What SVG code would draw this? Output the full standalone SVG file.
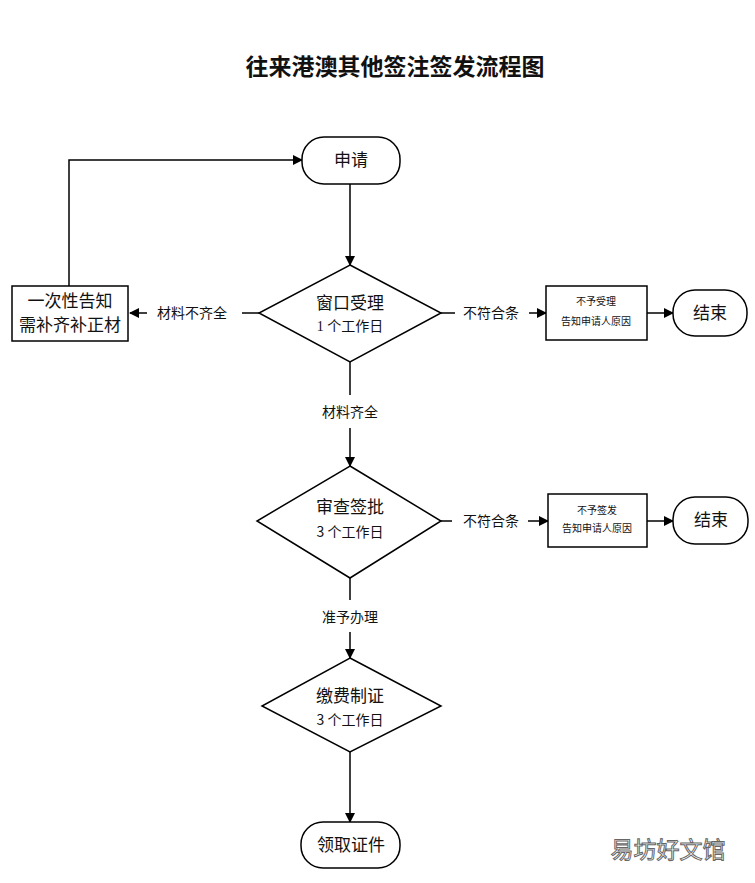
<svg xmlns="http://www.w3.org/2000/svg" width="755" height="883" viewBox="0 0 755 883">
<style>
.s{fill:#fff;stroke:#000;stroke-width:1.5}
.l{fill:none;stroke:#000;stroke-width:1.5}
text{font-family:"Liberation Serif","Noto Sans CJK SC",serif;fill:#111;text-anchor:middle}
.m{font-size:17px}
.sm{font-size:14px}
.xs{font-size:10px}
</style>
<defs><marker id="a" markerWidth="10" markerHeight="10" refX="9" refY="5" orient="auto" markerUnits="userSpaceOnUse"><path d="M0,0 L10,5 L0,10 Z" fill="#000"/></marker></defs>
<rect width="755" height="883" fill="#fff"/>
<text x="395" y="75" style="font-size:23px;font-weight:bold;font-family:'Noto Sans CJK SC',sans-serif">往来港澳其他签注签发流程图</text>
<g id="connectors">
<path class="l" d="M350,184 V265" marker-end="url(#a)"/>
<path class="l" d="M350,362 V395"/><path class="l" d="M350,428 V466" marker-end="url(#a)"/>
<path class="l" d="M350,578 V600"/><path class="l" d="M350,632 V658" marker-end="url(#a)"/>
<path class="l" d="M350,752 V822" marker-end="url(#a)"/>
<path class="l" d="M259,313 H242"/><path class="l" d="M147,313 H130" marker-end="url(#a)"/>
<path class="l" d="M69,286 V160 H302" marker-end="url(#a)"/>
<path class="l" d="M441,313 H455"/><path class="l" d="M529,313 H546" marker-end="url(#a)"/>
<path class="l" d="M647,313 H673" marker-end="url(#a)"/>
<path class="l" d="M441,521 H452"/><path class="l" d="M528,521 H548" marker-end="url(#a)"/>
<path class="l" d="M647,521 H673" marker-end="url(#a)"/>
<text class="sm" x="192" y="318">材料不齐全</text>
<text class="sm" x="491" y="318">不符合条</text>
<text class="sm" x="350" y="417">材料齐全</text>
<text class="sm" x="491" y="526" style="font-family:'Noto Sans CJK SC',sans-serif">不符合条</text>
<text class="sm" x="350" y="622" style="font-family:'Noto Sans CJK SC',sans-serif">准予办理</text>
</g>
<g id="apply"><rect class="s" x="302" y="137" width="98" height="47" rx="22"/><text class="m" x="351" y="166">申请</text></g>
<g id="window"><path class="s" d="M350,265 L441,313 L350,362 L259,313 Z"/><text class="m" x="350" y="309">窗口受理</text><text class="sm" x="350" y="331">1 个工作日</text></g>
<g id="notice"><rect class="s" x="12" y="286" width="116" height="55"/><text class="m" x="70" y="307">一次性告知</text><text class="m" x="70" y="331">需补齐补正材</text></g>
<g id="reject1"><rect class="s" x="546" y="286" width="101" height="54"/><text class="xs" x="596" y="305">不予受理</text><text class="xs" x="596" y="325">告知申请人原因</text></g>
<g id="end1"><rect class="s" x="673" y="290" width="74" height="46" rx="22"/><text class="m" x="710" y="319">结束</text></g>
<g id="review"><path class="s" d="M350,466 L441,521 L350,578 L257,521 Z"/><text class="m" x="350" y="513" style="font-family:'Noto Sans CJK SC',sans-serif">审查签批</text><text class="sm" x="350" y="537" style="font-family:'Noto Sans CJK SC',sans-serif">3 个工作日</text></g>
<g id="reject2"><rect class="s" x="548" y="494" width="99" height="53"/><text class="xs" x="597" y="514">不予签发</text><text class="xs" x="597" y="532">告知申请人原因</text></g>
<g id="end2"><rect class="s" x="673" y="497" width="75" height="47" rx="22"/><text class="m" x="711" y="526">结束</text></g>
<g id="fee"><path class="s" d="M350,658 L441,706 L350,752 L262,706 Z"/><text class="m" x="350" y="702" style="font-family:'Noto Sans CJK SC',sans-serif">缴费制证</text><text class="sm" x="350" y="725" style="font-family:'Noto Sans CJK SC',sans-serif">3 个工作日</text></g>
<g id="collect"><rect class="s" x="301" y="822" width="99" height="46" rx="22"/><text class="m" x="351" y="851" style="font-family:'Noto Sans CJK SC',sans-serif">领取证件</text></g>
<text x="668" y="858" style="font-size:23px;font-family:'Noto Sans CJK SC',sans-serif;fill:#fff;stroke:#666;stroke-width:1">易坊好文馆</text>
</svg>
